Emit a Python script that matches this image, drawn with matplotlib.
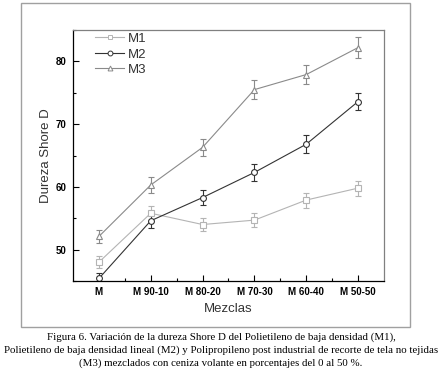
import matplotlib
matplotlib.use("Agg")
import matplotlib.pyplot as plt
from matplotlib.patches import Rectangle
from matplotlib.lines import Line2D
from matplotlib.ticker import MultipleLocator

categories = ["M", "M 90-10", "M 80-20", "M 70-30", "M 60-40", "M 50-50"]
m1 = [48.0, 55.8, 54.0, 54.7, 57.9, 59.8]
m1_err = [1.0, 1.15, 1.05, 1.15, 1.2, 1.2]
m2 = [45.4, 54.6, 58.3, 62.3, 66.8, 73.6]
m2_err = [0.9, 1.2, 1.2, 1.3, 1.4, 1.4]
m3 = [52.1, 60.3, 66.3, 75.5, 77.9, 82.2]
m3_err = [1.1, 1.25, 1.3, 1.5, 1.5, 1.7]
series_names = ["M1", "M2", "M3"]
yticks = [50, 60, 70, 80]

caption = ("Figura 6. Variación de la dureza Shore D del Polietileno de baja densidad (M1),\n"
           "Polietileno de baja densidad lineal (M2) y Polipropileno post industrial de recorte de tela no tejidas\n"
           "(M3) mezclados con ceniza volante en porcentajes del 0 al 50 %.")

W, H = 442, 374
fig = plt.figure(figsize=(W / 100, H / 100), dpi=100)
fig.patch.set_facecolor("white")
plt.rcParams["font.family"] = ["Liberation Sans", "DejaVu Sans"]

# outer frame
fig.patches.append(Rectangle((21 / W, 1 - 327 / H), (410 - 21) / W, (327 - 3) / H,
                             transform=fig.transFigure, fill=False,
                             edgecolor="#a0a0a0", linewidth=1.0))

ax = fig.add_axes([73 / W, 1 - 281 / H, (384 - 73) / W, (281 - 30) / H])
x = list(range(len(categories)))

styles = [
    (m1, m1_err, "s", "#b4b4b4"),
    (m2, m2_err, "o", "#333333"),
    (m3, m3_err, "^", "#8a8a8a"),
]
handles = []
for (vals, errs, mk, col), name in zip(styles, series_names):
    ax.errorbar(x, vals, yerr=errs, color=col, marker=mk, markersize=4.2,
                markerfacecolor="white", markeredgecolor=col, markeredgewidth=0.8,
                linewidth=0.8, elinewidth=0.8, capsize=2, capthick=0.8,
                ecolor=col)
    handles.append(Line2D([], [], color=col, marker=mk, markersize=3.5,
                          markerfacecolor="white", markeredgecolor=col,
                          markeredgewidth=0.7, linewidth=0.8, label=name))

ax.set_xlim(-0.5, 5.5)
ax.set_ylim(45, 85)
ax.set_xticks(x)
ax.set_xticklabels(categories, fontsize=7, fontweight="bold")
ax.set_xticks([i + 0.5 for i in x[:-1]], minor=True)
ax.set_yticks(yticks)
ax.set_yticklabels([str(v) for v in yticks], fontsize=7, fontweight="bold")
ax.yaxis.set_minor_locator(MultipleLocator(5))
ax.tick_params(direction="in", length=4, width=0.8, which="major", top=False, right=False)
ax.tick_params(axis="x", which="major", pad=4)
ax.tick_params(axis="y", which="major", pad=5)
ax.tick_params(direction="in", length=2.5, width=0.8, which="minor", top=False, right=False)

for s in ["left", "bottom"]:
    ax.spines[s].set_color("black")
    ax.spines[s].set_linewidth(0.9)
for s in ["top", "right"]:
    ax.spines[s].set_color("#808080")
    ax.spines[s].set_linewidth(0.9)

ax.set_xlabel("Mezclas", fontsize=9.5, color="#333333", labelpad=4.5)
ax.set_ylabel("Dureza Shore D", fontsize=9.5, color="#333333", labelpad=2)

leg = ax.legend(handles=handles, loc="upper left", frameon=False, fontsize=9.5,
                handlelength=2.2, borderaxespad=0.0, labelspacing=0.25,
                handletextpad=0.25, bbox_to_anchor=(0.055, 1.01))
for t in leg.get_texts():
    t.set_color("#333333")

fig.text(0.5, 1 - 350 / H, caption, ha="center", va="center", fontsize=7.8,
         family="Liberation Serif", linespacing=1.5)

fig.savefig("out.png", dpi=100)
